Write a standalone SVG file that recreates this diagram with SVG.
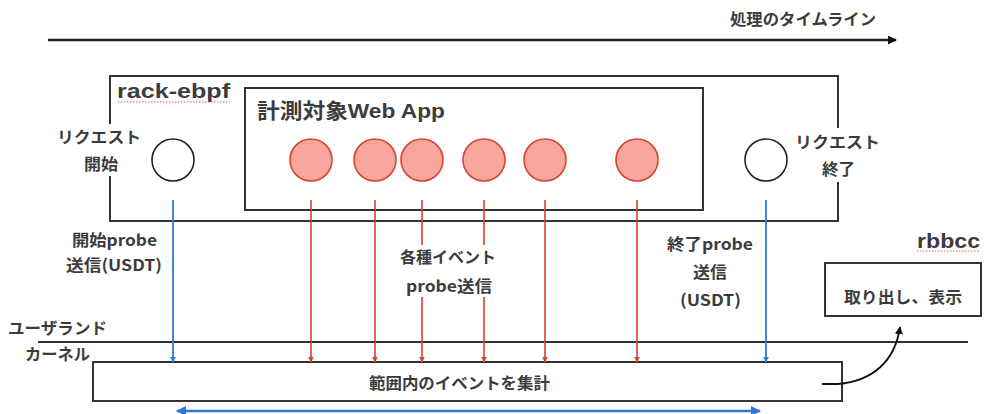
<svg xmlns="http://www.w3.org/2000/svg" width="984" height="414" viewBox="0 0 984 414">
<defs>
<style>
.t{font-family:"Noto Sans CJK JP","Noto Sans",sans-serif;fill:#3c3c3c;font-weight:bold;font-size:16px}
.l{font-family:"Liberation Sans","Noto Sans CJK JP",sans-serif;fill:#3c3c3c;font-weight:bold}
.box{fill:#fff;stroke:#333;stroke-width:2}
.red{stroke:#d9412e;stroke-width:1.6;fill:none}
.blue{stroke:#2f79d6;stroke-width:1.8;fill:none}
.ev{fill:#f8a59d;stroke:#d9412e;stroke-width:1.6}
.req{fill:#fff;stroke:#222;stroke-width:1.6}
.sq{stroke:#e55;stroke-width:1;stroke-dasharray:1.5 1.5;fill:none}
</style>
<marker id="ar" viewBox="0 0 10 10" refX="9" refY="5" markerWidth="6" markerHeight="6" orient="auto" markerUnits="userSpaceOnUse"><path d="M0,0L10,5L0,10z" fill="#d9412e"/></marker>
<marker id="ab" viewBox="0 0 10 10" refX="9" refY="5" markerWidth="6" markerHeight="6" orient="auto" markerUnits="userSpaceOnUse"><path d="M0,0L10,5L0,10z" fill="#2f79d6"/></marker>
<marker id="abl" viewBox="0 0 10 10" refX="9" refY="5" markerWidth="10" markerHeight="10" orient="auto-start-reverse" markerUnits="userSpaceOnUse"><path d="M0,0L10,5L0,10z" fill="#2f79d6"/></marker>
<marker id="ak" viewBox="0 0 10 10" refX="9" refY="5" markerWidth="8" markerHeight="8" orient="auto" markerUnits="userSpaceOnUse"><path d="M0,0L10,5L0,10z" fill="#111"/></marker>
<marker id="at" viewBox="0 0 10 10" refX="9" refY="5" markerWidth="9" markerHeight="9" orient="auto" markerUnits="userSpaceOnUse"><path d="M0,0L10,5L0,10z" fill="#111"/></marker>
</defs>
<rect width="984" height="414" fill="#fff"/>

<g id="timeline">
<line x1="48" y1="40" x2="896" y2="40" stroke="#222" stroke-width="2.5" marker-end="url(#at)"/>
<text class="t" x="730" y="25" textLength="146" lengthAdjust="spacingAndGlyphs">処理のタイムライン</text>
</g>

<g id="rack-ebpf">
<rect class="box" x="110" y="76" width="728" height="145"/>
<text class="l" x="117" y="98" font-size="20" textLength="113" lengthAdjust="spacingAndGlyphs">rack-ebpf</text>
<path class="sq" d="M118,102H230"/>
</g>

<g id="webapp">
<rect class="box" x="245" y="88" width="458" height="122"/>
<text class="l" x="257" y="118" font-size="21" textLength="188" lengthAdjust="spacingAndGlyphs">計測対象Web App</text>
</g>

<g id="req-start">
<rect x="52" y="124" width="96" height="52" fill="#fff"/>
<text class="t" x="57" y="143" textLength="84" lengthAdjust="spacingAndGlyphs">リクエスト</text>
<text class="t" x="84" y="170" textLength="34" lengthAdjust="spacingAndGlyphs">開始</text>
<circle class="req" cx="173" cy="160" r="21"/>
</g>

<g id="req-end">
<rect x="790" y="128" width="96" height="54" fill="#fff"/>
<text class="t" x="795" y="148" textLength="85" lengthAdjust="spacingAndGlyphs">リクエスト</text>
<text class="t" x="822" y="175" textLength="33" lengthAdjust="spacingAndGlyphs">終了</text>
<circle class="req" cx="766" cy="160" r="21"/>
</g>

<g id="events">
<circle class="ev" cx="311" cy="160" r="21"/>
<circle class="ev" cx="375" cy="160" r="21"/>
<circle class="ev" cx="422" cy="160" r="21"/>
<circle class="ev" cx="484" cy="160" r="21"/>
<circle class="ev" cx="545" cy="160" r="21"/>
<circle class="ev" cx="637" cy="160" r="21"/>
</g>

<g id="layers">
<line x1="38" y1="342" x2="968" y2="342" stroke="#333" stroke-width="1.8"/>
<text class="t" x="8" y="334" textLength="99" lengthAdjust="spacingAndGlyphs">ユーザランド</text>
<text class="t" x="25" y="360" textLength="65" lengthAdjust="spacingAndGlyphs">カーネル</text>
</g>

<g id="kernel">
<rect class="box" x="93" y="362" width="749" height="39"/>
<text class="t" x="369" y="389" textLength="181" lengthAdjust="spacingAndGlyphs">範囲内のイベントを集計</text>
</g>

<g id="rbbcc">
<text class="l" x="917" y="248" font-size="21" textLength="63" lengthAdjust="spacingAndGlyphs">rbbcc</text>
<path class="sq" d="M917,251H980"/>
<rect class="box" x="825" y="263" width="156" height="53"/>
<text class="t" x="844" y="303" textLength="118" lengthAdjust="spacingAndGlyphs">取り出し、表示</text>
</g>

<g id="connectors">
<line class="blue" x1="173" y1="200" x2="173" y2="362" marker-end="url(#ab)"/>
<line class="red" x1="311" y1="200" x2="311" y2="362" marker-end="url(#ar)"/>
<line class="red" x1="375" y1="200" x2="375" y2="362" marker-end="url(#ar)"/>
<line class="red" x1="422" y1="200" x2="422" y2="245"/>
<line class="red" x1="422" y1="297" x2="422" y2="362" marker-end="url(#ar)"/>
<line class="red" x1="484" y1="200" x2="484" y2="245"/>
<line class="red" x1="484" y1="297" x2="484" y2="362" marker-end="url(#ar)"/>
<line class="red" x1="545" y1="200" x2="545" y2="362" marker-end="url(#ar)"/>
<line class="red" x1="637" y1="200" x2="637" y2="362" marker-end="url(#ar)"/>
<line class="blue" x1="766" y1="200" x2="766" y2="362" marker-end="url(#ab)"/>
<line x1="177" y1="411" x2="760" y2="411" stroke="#2f79d6" stroke-width="2.5" marker-start="url(#abl)" marker-end="url(#abl)"/>
<path d="M822,384H838C872,381 895,362 900,327" fill="none" stroke="#111" stroke-width="1.8" marker-end="url(#ak)"/>
<text class="t" x="72" y="246" textLength="85" lengthAdjust="spacingAndGlyphs">開始probe</text>
<text class="t" x="66" y="271" textLength="96" lengthAdjust="spacingAndGlyphs">送信(USDT)</text>
<text class="t" x="400" y="263" textLength="96" lengthAdjust="spacingAndGlyphs">各種イベント</text>
<text class="t" x="406" y="292" textLength="86" lengthAdjust="spacingAndGlyphs">probe送信</text>
<text class="t" x="667" y="250" textLength="86" lengthAdjust="spacingAndGlyphs">終了probe</text>
<text class="t" x="693" y="278" textLength="34" lengthAdjust="spacingAndGlyphs">送信</text>
<text class="t" x="680" y="306" textLength="61" lengthAdjust="spacingAndGlyphs">(USDT)</text>
</g>
</svg>
